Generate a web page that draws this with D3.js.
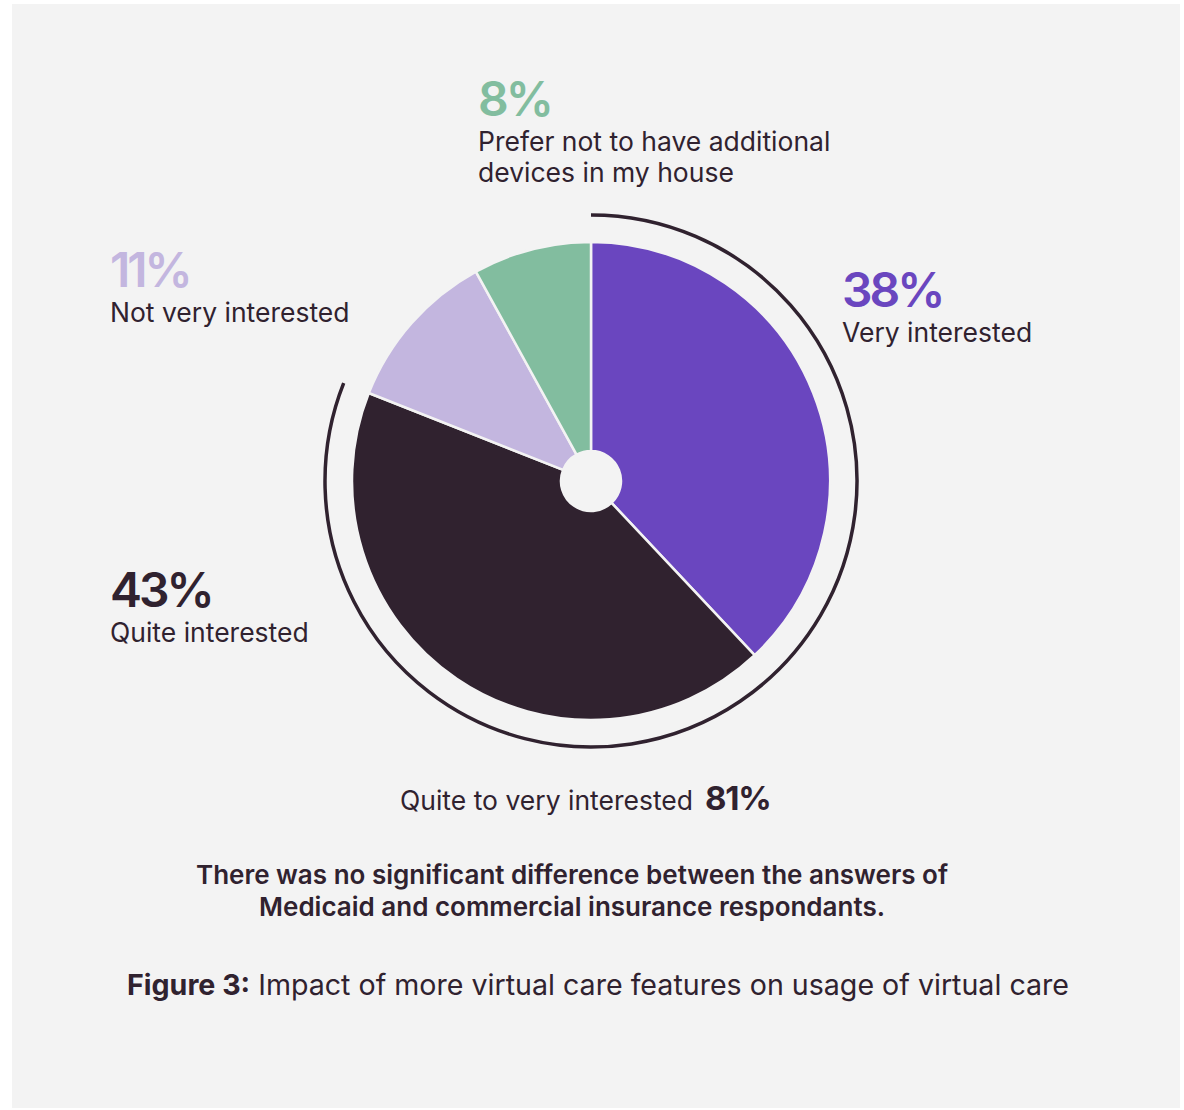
<!DOCTYPE html>
<html>
<head>
<meta charset="utf-8">
<script src="https://cdn.jsdelivr.net/npm/d3@7"></script>
<style>
  html, body { margin: 0; padding: 0; background: #ffffff; }
  svg { display: block; }
  text { font-family: Inter, "Noto Sans", sans-serif; }
</style>
</head>
<body>
<svg id="chart" width="1184" height="1110"></svg>
<script>
const categories = ["Very interested", "Quite interested", "Not very interested", "Prefer not to have additional devices in my house"];
const values = [38, 43, 11, 8];
const colors = ["#6a46bf", "#30222f", "#c3b6df", "#82bd9f"];
const combinedLabel = "Quite to very interested";
const combinedValue = 81;
const note = ["There was no significant difference between the answers of", "Medicaid and commercial insurance respondants."];
const captionBold = "Figure 3:";
const captionText = " Impact of more virtual care features on usage of virtual care";

const svg = d3.select("#chart");
const bg = "#f3f3f3";
const ink = "#30222f";

svg.append("rect").attr("x", 12).attr("y", 4).attr("width", 1168).attr("height", 1104).attr("fill", bg);

const cx = 591, cy = 481, R = 239, r0 = 30;
const g = svg.append("g").attr("transform", `translate(${cx},${cy})`);

const pie = d3.pie().sort(null).value(d => d);
const arcs = pie(values);
const arc = d3.arc().innerRadius(r0).outerRadius(R);

g.selectAll("path.slice").data(arcs).join("path")
  .attr("class", "slice")
  .attr("d", arc)
  .attr("fill", (d, i) => colors[i])
  .attr("stroke", bg)
  .attr("stroke-width", 2.5)
  .attr("stroke-linejoin", "round");

// outer bracket arc covering quite + very
const angle = d3.scaleLinear().domain([0, 100]).range([0, 2 * Math.PI]);
const ringArc = d3.arc().innerRadius(266).outerRadius(266).startAngle(0).endAngle(angle(values[0] + values[1]));
g.append("path").attr("d", ringArc()).attr("fill", "none").attr("stroke", ink)
  .attr("stroke-width", 3.5).attr("stroke-linecap", "round");

// labels
function label(x, y, pct, color, lines) {
  const t = svg.append("g");
  t.append("text").attr("x", x).attr("y", y - 2).attr("fill", color)
    .attr("font-size", 48).attr("font-weight", 600).attr("letter-spacing", -3)
    .text(pct + "%");
  lines.forEach((l, i) => {
    t.append("text").attr("x", x).attr("y", y + 33 + i * 31).attr("fill", ink)
      .attr("font-size", 26.5).attr("font-weight", 400).attr("letter-spacing", 0)
      .text(l);
  });
}
label(478, 118, values[3], colors[3], ["Prefer not to have additional", "devices in my house"]);
label(110, 289, values[2], colors[2], [categories[2]]);
label(842, 309, values[0], colors[0], [categories[0]]);
label(110, 609, values[1], colors[1], [categories[1]]);

svg.append("text").attr("x", 400).attr("y", 810).attr("fill", ink)
  .attr("font-size", 26.5).text(combinedLabel);
svg.append("text").attr("x", 705).attr("y", 810).attr("fill", ink)
  .attr("font-size", 33).attr("font-weight", 700).attr("letter-spacing", -1.2).text(combinedValue + "%");

note.forEach((l, i) => {
  svg.append("text").attr("x", 572).attr("y", 884 + i * 32).attr("text-anchor", "middle")
    .attr("fill", ink).attr("font-size", 26).attr("font-weight", 600).text(l);
});

const cap = svg.append("text").attr("x", 598).attr("y", 995).attr("text-anchor", "middle").attr("fill", ink)
  .attr("font-size", 28.6);
cap.append("tspan").attr("font-weight", 700).text(captionBold);
cap.append("tspan").attr("font-weight", 400).text(captionText);
</script>
</body>
</html>
